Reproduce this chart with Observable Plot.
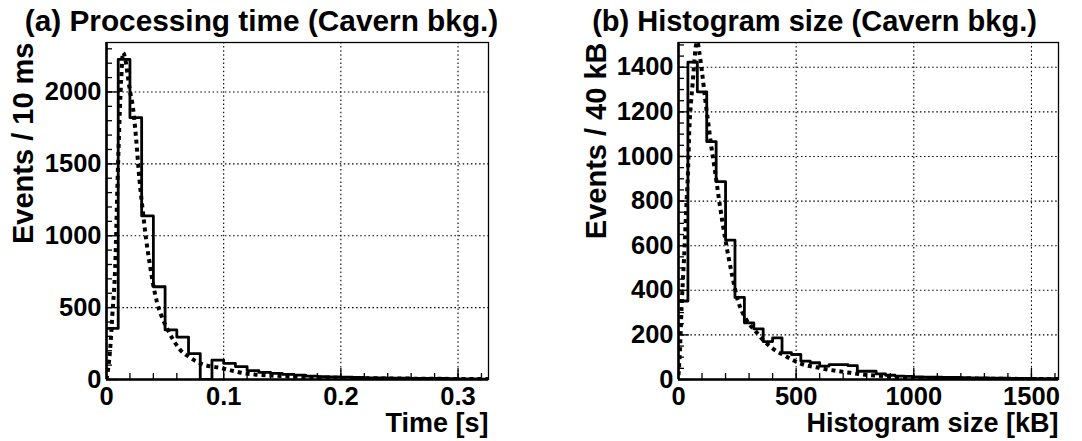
<!DOCTYPE html>
<html><head><meta charset="utf-8">
<script src="https://cdn.jsdelivr.net/npm/d3@7"></script>
<script src="https://cdn.jsdelivr.net/npm/@observablehq/plot@0.6"></script>
<style>
html,body{margin:0;padding:0;background:#fff;}
#wrap{display:flex;width:1082px;height:441px;overflow:hidden;}
svg{display:block;}
</style></head><body><div id="wrap"></div>
<script>
// ---------- Panel (a): processing time ----------
const timeBinWidth = 0.01; // s
const timeCounts = [355, 2226, 1821, 1138, 645, 345, 295, 180, 0, 135, 112, 90, 62, 50, 42, 36, 30, 24, 20, 18, 16, 14, 12, 11, 10, 9, 8, 8, 7, 6, 5, 4, 3];
const timeFitX = [0, 0.003, 0.005, 0.0077, 0.009, 0.0105, 0.0125, 0.0141, 0.016, 0.018, 0.020, 0.0226, 0.025, 0.0282, 0.031, 0.0339, 0.037, 0.0396, 0.043, 0.047, 0.052, 0.057, 0.062, 0.070, 0.078, 0.084, 0.094, 0.105, 0.115, 0.125, 0.14, 0.16, 0.18, 0.20, 0.23, 0.26, 0.30, 0.33];
const timeFitY = [0, 200, 450, 850, 1250, 1660, 2080, 2274, 2230, 2120, 2010, 1890, 1700, 1385, 1170, 970, 800, 670, 540, 440, 350, 275, 215, 160, 120, 100, 85, 66, 47, 36, 28, 20, 14, 11, 8, 6, 4, 3];
const timeXTicks = [0, 0.1, 0.2, 0.3];
const timeXTickLabels = ["0", "0.1", "0.2", "0.3"];
const timeYTicks = [0, 500, 1000, 1500, 2000];
const timeYTickLabels = ["0", "500", "1000", "1500", "2000"];

// ---------- Panel (b): histogram size ----------
const sizeBinWidth = 40; // kB
const sizeCounts = [352, 1423, 1290, 1067, 887, 625, 368, 254, 227, 170, 187, 120, 112, 82, 75, 60, 67, 67, 62, 37, 37, 25, 19, 15, 14, 12, 11, 10, 9, 9, 8, 7, 7, 6, 6, 5, 5, 5, 4, 4, 4];
const sizeFitX = [0, 7, 13, 20, 27, 33, 40, 47, 53, 60, 67, 73, 80, 88, 100, 113, 127, 140, 153, 173, 200, 227, 253, 270, 287, 307, 327, 357, 387, 420, 443, 490, 531, 586, 634, 682, 730, 784, 839, 907, 1003, 1100, 1250, 1400, 1620];
const sizeFitY = [20, 150, 322, 470, 622, 770, 922, 1147, 1240, 1327, 1420, 1490, 1515, 1470, 1378, 1260, 1146, 1040, 951, 801, 622, 472, 352, 305, 270, 240, 217, 180, 150, 125, 112, 85, 67, 55, 45, 37, 30, 22, 18, 12, 7, 5, 4, 3, 2];
const sizeXTicks = [0, 500, 1000, 1500];
const sizeXTickLabels = ["0", "500", "1000", "1500"];
const sizeYTicks = [0, 200, 400, 600, 800, 1000, 1200, 1400];
const sizeYTickLabels = ["0", "200", "400", "600", "800", "1000", "1200", "1400"];

const FONT = "'Liberation Sans', Arial, Helvetica, sans-serif";

function panel(cfg) {
  const steps = cfg.counts.map((c, i) => ({x: i * cfg.binWidth, y: c}));
  steps.push({x: cfg.counts.length * cfg.binWidth, y: cfg.counts[cfg.counts.length - 1]});
  const fit = cfg.fitX.map((x, i) => ({x, y: cfg.fitY[i]}));
  const x0 = cfg.xDomain[0], y0 = cfg.yDomain[0];
  const grid = {stroke: "black", strokeWidth: 1.1, strokeDasharray: "1.5,2.6", strokeOpacity: 1};
  return Plot.plot({
    width: cfg.width, height: 441,
    marginLeft: cfg.marginLeft, marginRight: cfg.marginRight, marginTop: 42, marginBottom: 62,
    x: {domain: cfg.xDomain, axis: null},
    y: {domain: cfg.yDomain, axis: null},
    style: {fontFamily: FONT, fontWeight: "bold", background: "white", color: "black", overflow: "visible"},
    marks: [
      Plot.ruleX(cfg.xTicks.filter(d => d !== 0), {x: d => d, ...grid}),
      Plot.ruleY(cfg.yTicks.filter(d => d !== 0), {y: d => d, ...grid}),
      // minor & major ticks (inside the frame)
      Plot.ruleX(cfg.xMinor, {x: d => d, y1: () => y0, y2: () => y0, insetBottom: 6, stroke: "black", strokeWidth: 1.3}),
      Plot.ruleX(cfg.xTicks, {x: d => d, y1: () => y0, y2: () => y0, insetBottom: 11, stroke: "black", strokeWidth: 1.3}),
      Plot.ruleY(cfg.yMinor, {y: d => d, x1: () => x0, x2: () => x0, insetRight: -6, stroke: "black", strokeWidth: 1.3}),
      Plot.ruleY(cfg.yTicks, {y: d => d, x1: () => x0, x2: () => x0, insetRight: -11, stroke: "black", strokeWidth: 1.3}),
      Plot.line(fit, {x: "x", y: "y", curve: "monotone-x", stroke: "black", strokeWidth: 4, strokeDasharray: "4,4", strokeLinecap: "butt", clip: true}),
      Plot.line(steps, {x: "x", y: "y", curve: "step-after", stroke: "black", strokeWidth: 2.8, clip: true}),
      Plot.frame({stroke: "black", strokeWidth: 1.3}),
      Plot.ruleY([y0], {stroke: "black", strokeWidth: 2.6}),
      Plot.ruleX([x0], {stroke: "black", strokeWidth: 2.6}),
      // tick labels
      Plot.text(cfg.xTicks, {x: d => d, frameAnchor: "bottom", lineAnchor: "middle", dy: 17, text: (d, i) => cfg.xLabels[i], fontSize: 25.5, fill: "black"}),
      Plot.text(cfg.yTicks, {y: d => d, frameAnchor: "left", lineAnchor: "middle", dx: -5, textAnchor: "end", text: (d, i) => cfg.yLabels[i], fontSize: 25.5, fill: "black"}),
      // titles
      Plot.text([cfg.title], {frameAnchor: "top", lineAnchor: "middle", dx: cfg.titleDx, dy: -21, fontSize: cfg.titleSize, fill: "black"}),
      Plot.text([cfg.xTitle], {frameAnchor: "bottom-right", lineAnchor: "middle", dy: 44, textAnchor: "end", fontSize: 27, fill: "black"}),
      Plot.text([cfg.yTitle], {frameAnchor: "top-left", lineAnchor: "middle", dx: cfg.yTitleDx, rotate: -90, textAnchor: "end", fontSize: 29, fill: "black"})
    ]
  });
}

const wrap = document.getElementById("wrap");
wrap.appendChild(panel({
  width: 541, marginLeft: 106, marginRight: 53,
  xDomain: [0, 0.326], yDomain: [0, 2344],
  counts: timeCounts, binWidth: timeBinWidth, fitX: timeFitX, fitY: timeFitY,
  xTicks: timeXTicks, xLabels: timeXTickLabels, xMinor: d3.range(0.02, 0.326, 0.02),
  yTicks: timeYTicks, yLabels: timeYTickLabels, yMinor: d3.range(100, 2344, 100),
  title: "(a) Processing time (Cavern bkg.)", titleDx: -36, titleSize: 29.8,
  xTitle: "Time [s]", yTitle: "Events / 10 ms", yTitleDx: -83
}));
wrap.appendChild(panel({
  width: 541, marginLeft: 137, marginRight: 24,
  xDomain: [0, 1615], yDomain: [0, 1511],
  counts: sizeCounts, binWidth: sizeBinWidth, fitX: sizeFitX, fitY: sizeFitY,
  xTicks: sizeXTicks, xLabels: sizeXTickLabels, xMinor: d3.range(100, 1615, 100),
  yTicks: sizeYTicks, yLabels: sizeYTickLabels, yMinor: d3.range(50, 1511, 50),
  title: "(b) Histogram size (Cavern bkg.)", titleDx: -54, titleSize: 29,
  xTitle: "Histogram size [kB]", yTitle: "Events / 40 kB", yTitleDx: -82
}));
</script></body></html>
